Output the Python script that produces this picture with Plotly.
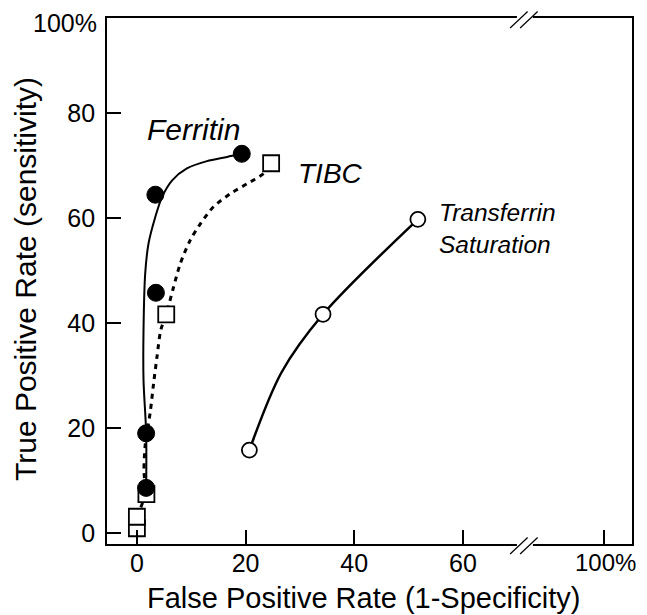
import plotly.graph_objects as go

# ---- data ----
ferritin_x = [1.7, 1.7, 3.5, 3.4, 19.3]
ferritin_y = [8.6, 19.0, 45.8, 64.5, 72.3]
ferritin_fit_x = [1.71, 1.71, 1.22, 1.22, 1.53, 2.14, 3.37, 4.6, 6.45, 9.2, 12.9, 16.6, 19.0]
ferritin_fit_y = [8.6, 19.0, 29.1, 38.7, 49.5, 55.2, 60.2, 64.0, 67.2, 69.5, 70.9, 71.7, 72.3]

tibc_x = [0, 0, 1.75, 5.4, 24.7]
tibc_y = [0.9, 3.1, 7.4, 41.7, 70.5]
tibc_fit_x = [0, 1.5, 1.3, 1.55, 2.45, 3.06, 3.7, 4.4, 5.4, 6.75, 8.0, 9.8, 11.7, 14.1, 17.2, 20.3, 23.3, 24.7]
tibc_fit_y = [3.1, 7.4, 12, 17, 23, 28.4, 33.6, 38.7, 41.7, 46.9, 51.4, 55.8, 59.0, 62.2, 64.7, 66.6, 68.5, 70.3]

ts_x = [20.7, 34.25, 51.7]
ts_y = [15.8, 41.7, 59.8]
ts_fit_x = [20.7, 26.6, 34.25, 51.7]
ts_fit_y = [15.8, 30.6, 41.7, 59.8]

x_tickvals = [0, 20, 40, 60, 85.9]
x_ticktext = ["0", "20", "40", "60", ""]
y_tickvals = [0, 20, 40, 60, 80]
y_ticktext = ["0", "20", "40", "60", "80"]
x_max_label = "100%"
y_max_label = "100%"
x_max_pos = 85.9
y_max_pos = 97.3
x_break = 71.4

x_title = "False Positive Rate (1-Specificity)"
y_title = "True Positive Rate (sensitivity)"

FONT = "Liberation Sans, Arial, Helvetica, sans-serif"

fig = go.Figure()

# fitted curves
fig.add_trace(go.Scatter(x=tibc_fit_x, y=tibc_fit_y, mode="lines",
                         line=dict(color="black", width=3, dash="5px,5px", shape="spline", smoothing=0.8),
                         hoverinfo="skip", showlegend=False))
fig.add_trace(go.Scatter(x=ferritin_fit_x, y=ferritin_fit_y, mode="lines",
                         line=dict(color="black", width=2, shape="spline", smoothing=0.8),
                         hoverinfo="skip", showlegend=False))
fig.add_trace(go.Scatter(x=ts_fit_x, y=ts_fit_y, mode="lines",
                         line=dict(color="black", width=2.5, shape="spline", smoothing=0.9),
                         hoverinfo="skip", showlegend=False))

# markers
fig.add_trace(go.Scatter(x=tibc_x, y=tibc_y, mode="markers", name="TIBC",
                         marker=dict(symbol="square", size=16, color="white",
                                     line=dict(color="black", width=1.8)),
                         showlegend=False))
fig.add_trace(go.Scatter(x=ferritin_x, y=ferritin_y, mode="markers", name="Ferritin",
                         marker=dict(symbol="circle", size=17, color="black",
                                     line=dict(color="black", width=1)),
                         showlegend=False))
fig.add_trace(go.Scatter(x=ts_x, y=ts_y, mode="markers", name="Transferrin Saturation",
                         marker=dict(symbol="circle", size=15, color="white",
                                     line=dict(color="black", width=1.8)),
                         showlegend=False))

# series labels
fig.add_annotation(x=10.4, y=77.0, text="<i>Ferritin</i>", showarrow=False,
                   font=dict(size=30, color="black", family=FONT))
fig.add_annotation(x=35.6, y=68.6, text="<i>TIBC</i>", showarrow=False,
                   font=dict(size=28, color="black", family=FONT))
fig.add_annotation(x=55.3, y=58.1, text="<i>Transferrin<br>Saturation</i>", showarrow=False,
                   xanchor="left", align="left",
                   font=dict(size=24.5, color="black", family=FONT))

# end-of-axis "100%" labels
fig.add_annotation(xref="x", yref="paper", x=x_max_pos, y=0, xshift=2, yshift=-18,
                   xanchor="center", yanchor="middle", text=x_max_label, showarrow=False,
                   font=dict(size=24, color="black", family=FONT))
fig.add_annotation(xref="paper", yref="y", x=0, y=y_max_pos, xshift=-8,
                   xanchor="right", yanchor="middle", text=y_max_label, showarrow=False,
                   font=dict(size=25, color="black", family=FONT))

# axis titles
fig.add_annotation(xref="paper", yref="paper", x=0.5, y=0, xshift=-6, yshift=-54,
                   xanchor="center", yanchor="middle", text=x_title, showarrow=False,
                   font=dict(size=29, color="black", family=FONT))
fig.add_annotation(xref="paper", yref="paper", x=0, y=0.5, xshift=-82, yshift=2,
                   xanchor="center", yanchor="middle", textangle=-90, text=y_title, showarrow=False,
                   font=dict(size=30, color="black", family=FONT))

# axis break marks on bottom and top frame lines
for ya in (0, 1):
    fig.add_shape(type="rect", xref="x", yref="paper", xsizemode="pixel", ysizemode="pixel",
                  xanchor=x_break, yanchor=ya, x0=-8, x1=8, y0=-3, y1=3,
                  fillcolor="white", line=dict(width=0), layer="above")
    for off in (-14.8, -4.8):
        fig.add_shape(type="line", xref="x", yref="paper", xsizemode="pixel", ysizemode="pixel",
                      xanchor=x_break, yanchor=ya, x0=off, x1=off + 17.5, y0=-10, y1=6.5,
                      line=dict(color="black", width=1.2), layer="above")

fig.update_layout(
    width=639, height=607,
    margin=dict(l=98.7, r=15.3, t=9.5, b=71),
    paper_bgcolor="white", plot_bgcolor="white",
    font=dict(family=FONT, color="black"),
    showlegend=False,
)
fig.update_xaxes(range=[-5.5, 91.1], tickvals=x_tickvals, ticktext=x_ticktext,
                 ticks="inside", ticklen=14, tickwidth=1.5, tickcolor="black",
                 showline=True, linecolor="black", linewidth=1.8, mirror=True,
                 showgrid=False, zeroline=False, automargin=False,
                 ticklabelstandoff=-4, ticklabeloverflow="allow",
                 tickfont=dict(size=25, family=FONT))
fig.update_yaxes(range=[-2.1, 98.19], tickvals=y_tickvals, ticktext=y_ticktext,
                 ticks="inside", ticklen=14, tickwidth=1.5, tickcolor="black",
                 showline=True, linecolor="black", linewidth=1.8, mirror=True,
                 showgrid=False, zeroline=False, automargin=False,
                 ticklabelstandoff=5, ticklabeloverflow="allow",
                 tickfont=dict(size=25, family=FONT))

fig.write_html("out.html")
